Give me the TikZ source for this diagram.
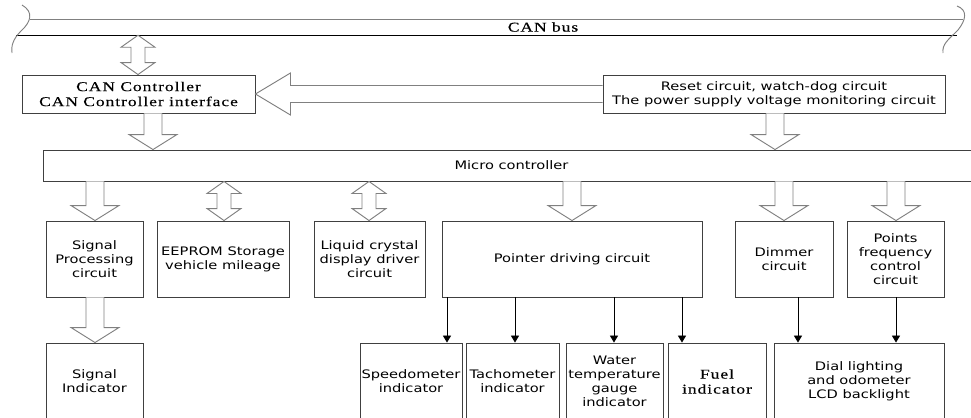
\documentclass[tikz,border=0pt]{standalone}
\usepackage{fontspec}
\newfontfamily\boxfont[FakeStretch=1.25]{DejaVu Sans}
\newfontfamily\busfont[FakeStretch=1.3,LetterSpace=7,FakeBold=0.25]{Liberation Serif}
\usetikzlibrary{calc,arrows.meta}
\newlength\pxl
\setlength\pxl{0.03cm}
\definecolor{edgegray}{gray}{0.25}
\definecolor{arrowgray}{gray}{0.5}
\tikzset{
    box/.style={draw=edgegray, line width=0.8pt, align=center, inner sep=0pt,
        font=\boxfont\fontsize{10}{12}\selectfont},
    serifbox/.style={box, font=\busfont\fontsize{11.5}{12.8}\selectfont},
    busname/.style={inner sep=0pt, minimum height=16*\pxl,
        font=\busfont\fontsize{11.5}{12.8}\selectfont},
    hollow/.style={draw=arrowgray, line width=0.8pt, fill=white, line join=miter},
    feedline/.style={draw=black, line width=0.8pt, -{Triangle[width=7pt,length=6pt]}},
    busline/.style={line width=0.8pt},
}
% hollow arrow pointing down: x, upper node, lower node
\newcommand\hollowdown[3]{%
    \coordinate (ht) at (#2.south -| #1,0);
    \coordinate (hb) at (#3.north -| #1,0);
    \draw[hollow] ($(ht)+(-9,0)$) -- ($(hb)+(-9,-15)$) -- ($(hb)+(-24,-15)$) -- (hb)
        -- ($(hb)+(24,-15)$) -- ($(hb)+(9,-15)$) -- ($(ht)+(9,0)$);}
% hollow arrow with two heads: x, upper node, lower node
\newcommand\hollowboth[3]{%
    \coordinate (ht) at (#2.south -| #1,0);
    \coordinate (hb) at (#3.north -| #1,0);
    \draw[hollow] (ht) -- ($(ht)+(17,12)$) -- ($(ht)+(7,12)$) -- ($(hb)+(7,-12)$)
        -- ($(hb)+(17,-12)$) -- (hb) -- ($(hb)+(-17,-12)$) -- ($(hb)+(-7,-12)$)
        -- ($(ht)+(-7,12)$) -- ($(ht)+(-17,12)$) -- cycle;}
% hollow arrow pointing left: y, right node, left node
\newcommand\hollowleft[3]{%
    \coordinate (hr) at (#2.west |- 0,#1);
    \coordinate (hl) at (#3.east |- 0,#1);
    \draw[hollow] ($(hr)+(0,-8.5)$) -- ($(hl)+(35,-8.5)$) -- ($(hl)+(35,-21)$) -- (hl)
        -- ($(hl)+(35,21)$) -- ($(hl)+(35,8.5)$) -- ($(hr)+(0,8.5)$);}
% thin arrow: x, upper node, lower node
\newcommand\feed[3]{\draw[feedline] (#2.south -| #1,0) -- (#3.north -| #1,0);}

\begin{document}
\begin{tikzpicture}[x=0.03cm, y=-0.03cm]
    \useasboundingbox (0,0) rectangle (971,418);
    \clip (0,0) rectangle (971,418);
    % CAN bus
    \node[busname] (bus) at (543,27) {CAN bus};
    \draw[busline, draw=gray] (30,19) -- (963,19);
    \draw[busline] (16,35) -- (957,35);
    \draw[busline, draw=gray] (22,5) .. controls (34,12) and (31,22) .. (21,31)
        .. controls (13,39) and (11,46) .. (12,53);
    \draw[busline, draw=gray] (957,6) .. controls (968,10) and (966,20) .. (958,30)
        .. controls (948,40) and (942,44) .. (943,53);
    % first row
    \node[serifbox, minimum width=233*\pxl, minimum height=38*\pxl] (can) at (138.5,94)
        {CAN Controller\\CAN Controller interface};
    \node[box, minimum width=342*\pxl, minimum height=38*\pxl] (reset) at (774,94)
        {Reset circuit, watch-dog circuit\\The power supply voltage monitoring circuit};
    \node[box, minimum width=937*\pxl, minimum height=31*\pxl] (mcu) at (511.5,165.5)
        {Micro controller};
    % second row
    \node[box, minimum width=97*\pxl, minimum height=76*\pxl] (sig) at (94.5,259)
        {Signal\\Processing\\circuit};
    \node[box, minimum width=132*\pxl, minimum height=76*\pxl] (eeprom) at (223,259)
        {EEPROM Storage\\vehicle mileage};
    \node[box, minimum width=111*\pxl, minimum height=76*\pxl] (lcd) at (369.5,259)
        {Liquid crystal\\display driver\\circuit};
    \node[box, minimum width=260*\pxl, minimum height=76*\pxl] (ptr) at (572,259)
        {Pointer driving circuit};
    \node[box, minimum width=98*\pxl, minimum height=76*\pxl] (dim) at (784,259)
        {Dimmer\\circuit};
    \node[box, minimum width=97*\pxl, minimum height=76*\pxl] (pts) at (895.5,259)
        {Points\\frequency\\control\\circuit};
    % third row
    \node[box, minimum width=97*\pxl, minimum height=77*\pxl] (sigind) at (94.5,381.5)
        {Signal\\Indicator};
    \node[box, minimum width=102*\pxl, minimum height=77*\pxl] (speedo) at (411,381.5)
        {Speedometer\\indicator};
    \node[box, minimum width=93*\pxl, minimum height=77*\pxl] (tacho) at (512.5,381.5)
        {Tachometer\\indicator};
    \node[box, minimum width=97*\pxl, minimum height=77*\pxl] (water) at (614.5,381.5)
        {Water\\temperature\\gauge\\indicator};
    \node[serifbox, minimum width=98*\pxl, minimum height=77*\pxl] (fuel) at (717,381.5)
        {Fuel\\indicator};
    \node[box, minimum width=170*\pxl, minimum height=77*\pxl] (dial) at (859,381.5)
        {Dial lighting\\and odometer\\LCD backlight};
    % hollow arrows
    \hollowboth{138}{bus}{can}
    \hollowleft{94}{reset}{can}
    \hollowdown{153}{can}{mcu}
    \hollowdown{775}{reset}{mcu}
    \hollowdown{95}{mcu}{sig}
    \hollowboth{224}{mcu}{eeprom}
    \hollowboth{369}{mcu}{lcd}
    \hollowdown{572}{mcu}{ptr}
    \hollowdown{784}{mcu}{dim}
    \hollowdown{896}{mcu}{pts}
    \hollowdown{95}{sig}{sigind}
    % thin arrows
    \feed{447}{ptr}{speedo}
    \feed{515}{ptr}{tacho}
    \feed{614}{ptr}{water}
    \feed{682}{ptr}{fuel}
    \feed{798}{dim}{dial}
    \feed{896}{pts}{dial}
\end{tikzpicture}
\end{document}
